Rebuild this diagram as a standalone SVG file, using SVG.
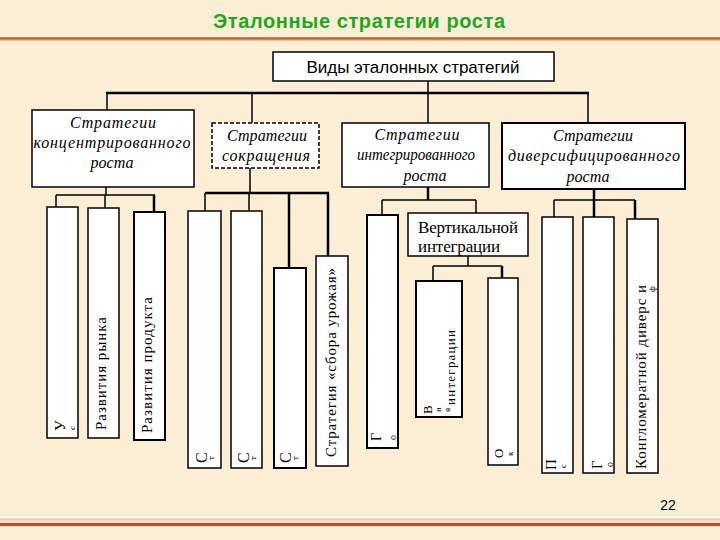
<svg xmlns="http://www.w3.org/2000/svg" width="720" height="540" viewBox="0 0 720 540">
<style>
.bg{fill:#fcefd6}
.box{fill:#ffffff;stroke:#000;stroke-width:1.5}
.dash{stroke-dasharray:4 2}
.ln{stroke:#000;stroke-width:1.5;fill:none}
.th{stroke-width:2.5}
.it{font-family:"Liberation Serif",serif;font-style:italic;font-size:16px;text-anchor:middle;fill:#000}
.rt{font-family:"Liberation Serif",serif;font-size:15px;fill:#000}
.sm{font-family:"Liberation Serif",serif;font-size:9px;fill:#000}
.sf{font-family:"Liberation Serif",serif;font-size:17px;fill:#000}
</style>
<rect class="bg" x="0" y="0" width="720" height="540"/>
<g id="header">
<text x="359" y="28" font-family="Liberation Sans, Arial, sans-serif" font-size="20" font-weight="bold" fill="#1fa81f" text-anchor="middle" textLength="292">Эталонные стратегии роста</text>
<line x1="0" y1="38.5" x2="720" y2="38.5" stroke="#c0652e" stroke-width="2.5"/>
<line x1="0" y1="40.5" x2="720" y2="40.5" stroke="#eec7a4" stroke-width="1"/>
</g>
<g id="footer">
<line x1="0" y1="514.5" x2="720" y2="514.5" stroke="#e2f3d6" stroke-width="2"/>
<line x1="0" y1="517" x2="720" y2="517" stroke="#fffaf0" stroke-width="2"/>
<line x1="0" y1="519.5" x2="720" y2="519.5" stroke="#f6c4b4" stroke-width="2"/>
<line x1="0" y1="524.5" x2="720" y2="524.5" stroke="#d5401f" stroke-width="3"/>
<text x="668" y="510" font-family="Liberation Sans, Arial, sans-serif" font-size="14" fill="#000" text-anchor="middle">22</text>
</g>
<g id="connectors">
<line class="ln" x1="428" y1="81" x2="428" y2="123"/>
<line class="ln th" x1="106" y1="93" x2="589" y2="93"/>
<line class="ln" x1="107" y1="93" x2="107" y2="110"/>
<line class="ln" x1="252" y1="93" x2="252" y2="123"/>
<line class="ln" x1="588" y1="93" x2="588" y2="123"/>
<line class="ln" x1="106" y1="187" x2="106" y2="195"/>
<line class="ln" x1="56" y1="195" x2="155" y2="195"/>
<line class="ln" x1="56" y1="195" x2="56" y2="207"/>
<line class="ln" x1="105" y1="195" x2="105" y2="208"/>
<line class="ln th" x1="154" y1="195" x2="154" y2="212"/>
<line class="ln" x1="250" y1="168" x2="250" y2="193"/>
<line class="ln th" x1="205" y1="193" x2="329" y2="193"/>
<line class="ln" x1="205" y1="193" x2="205" y2="211"/>
<line class="ln" x1="249" y1="193" x2="249" y2="211"/>
<line class="ln th" x1="289" y1="193" x2="289" y2="268"/>
<line class="ln th" x1="328" y1="193" x2="328" y2="256"/>
<line class="ln th" x1="428" y1="187" x2="428" y2="200"/>
<line class="ln" x1="382" y1="200" x2="476" y2="200"/>
<line class="ln" x1="382" y1="200" x2="382" y2="215"/>
<line class="ln" x1="476" y1="200" x2="476" y2="213"/>
<line class="ln" x1="468" y1="256" x2="468" y2="266"/>
<line class="ln" x1="433" y1="266" x2="502" y2="266"/>
<line class="ln" x1="433" y1="266" x2="433" y2="281"/>
<line class="ln th" x1="502" y1="266" x2="502" y2="278"/>
<line class="ln th" x1="594" y1="189" x2="594" y2="217"/>
<line class="ln" x1="554" y1="200" x2="635" y2="200"/>
<line class="ln" x1="554" y1="200" x2="554" y2="217"/>
<line class="ln th" x1="635" y1="200" x2="635" y2="219"/>
</g>
<g id="root">
<rect class="box" x="273" y="52" width="281" height="29"/>
<text x="413" y="73" font-family="Liberation Sans, Arial, sans-serif" font-size="17" fill="#000" text-anchor="middle" textLength="213">Виды эталонных стратегий</text>
</g>
<g id="concentrated">
<rect class="box" x="32" y="110" width="162" height="77"/>
<text class="it" x="113" y="128" textLength="86">Стратегии</text>
<text class="it" x="112" y="148" textLength="157">концентрированного</text>
<text class="it" x="112" y="168">роста</text>
</g>
<g id="reduction">
<rect class="box dash" x="212" y="123" width="107" height="45"/>
<text class="it" x="267" y="141" textLength="80">Стратегии</text>
<text class="it" x="266" y="161" textLength="88">сокращения</text>
</g>
<g id="integrated">
<rect class="box" x="342" y="123" width="147" height="64"/>
<text class="it" x="417" y="140" textLength="85">Стратегии</text>
<text class="it" x="416" y="160" textLength="118" lengthAdjust="spacingAndGlyphs">интегрированного</text>
<text class="it" x="425" y="181">роста</text>
</g>
<g id="diversified">
<rect class="box" x="502" y="123" width="183" height="66" style="stroke-width:2"/>
<text class="it" x="593" y="141" textLength="80">Стратегии</text>
<text class="it" x="594" y="161" textLength="172">диверсифицированного</text>
<text class="it" x="588" y="182">роста</text>
</g>
<g id="n-us">
<rect class="box" x="47" y="207" width="31" height="231"/>
<text class="rt" transform="translate(65,431) rotate(-90)">У</text>
<text class="sm" transform="translate(75,430) rotate(-90)">с</text>
</g>
<g id="n-market">
<rect class="box" x="88" y="208" width="31" height="230"/>
<text class="rt" transform="translate(106,430) rotate(-90)" textLength="113">Развития рынка</text>
</g>
<g id="n-product">
<rect class="box" x="134" y="212" width="31" height="228" style="stroke-width:2"/>
<text class="rt" transform="translate(152,433) rotate(-90)" textLength="136">Развития продукта</text>
</g>
<g id="n-st1">
<rect class="box" x="188" y="211" width="33" height="257"/>
<text class="rt" transform="translate(207,463) rotate(-90)" style="font-size:16px">С</text>
<text class="sm" transform="translate(214,460) rotate(-90)">т</text>
</g>
<g id="n-st2">
<rect class="box" x="231" y="211" width="31" height="257"/>
<text class="rt" transform="translate(249,463) rotate(-90)" style="font-size:16px">С</text>
<text class="sm" transform="translate(256,460) rotate(-90)">т</text>
</g>
<g id="n-st3">
<rect class="box" x="274" y="268" width="32" height="200" style="stroke-width:2"/>
<text class="rt" transform="translate(291,463) rotate(-90)" style="font-size:16px">С</text>
<text class="sm" transform="translate(298,460) rotate(-90)">т</text>
</g>
<g id="n-harvest">
<rect class="box" x="316" y="256" width="32" height="210"/>
<text class="rt" transform="translate(336,457) rotate(-90)" textLength="189">Стратегия «сбора урожая»</text>
</g>
<g id="n-go1">
<rect class="box" x="367" y="215" width="31" height="233" style="stroke-width:2"/>
<text class="rt" transform="translate(381,441) rotate(-90)" style="font-size:14px">Г</text>
<text class="sm" transform="translate(396,440) rotate(-90)" style="font-size:10px">о</text>
</g>
<g id="n-vertical">
<rect class="box" x="408" y="213" width="120" height="43"/>
<text class="sf" x="418" y="233" textLength="100">Вертикальной</text>
<text class="sf" x="418" y="252" textLength="82">интеграции</text>
</g>
<g id="n-vn">
<rect class="box" x="416" y="281" width="46" height="136" style="stroke-width:2"/>
<text class="rt" transform="translate(432,414) rotate(-90)" style="font-size:13px">В</text>
<text class="sm" transform="translate(441,412) rotate(-90)">н</text>
<text class="sm" transform="translate(450,412) rotate(-90)">я</text>
<text class="rt" transform="translate(455,405) rotate(-90)" style="font-size:13px" textLength="75">интеграции</text>
</g>
<g id="n-ok">
<rect class="box" x="488" y="278" width="30" height="187"/>
<text class="rt" transform="translate(503,458) rotate(-90)" style="font-size:13px">О</text>
<text class="sm" transform="translate(513,456) rotate(-90)">к</text>
</g>
<g id="n-ps">
<rect class="box" x="542" y="217" width="31" height="256"/>
<text class="rt" transform="translate(556,470) rotate(-90)">П</text>
<text class="sm" transform="translate(566,468) rotate(-90)">с</text>
</g>
<g id="n-go2">
<rect class="box" x="583" y="217" width="31" height="256"/>
<text class="rt" transform="translate(602,469) rotate(-90)">Г</text>
<text class="sm" transform="translate(613,467) rotate(-90)" style="font-size:10px">о</text>
</g>
<g id="n-conglomerate">
<rect class="box" x="627" y="219" width="31" height="254"/>
<text class="rt" transform="translate(646,469) rotate(-90)" textLength="184">Конгломератной диверс и</text>
<text class="sm" transform="translate(655,292) rotate(-90)">ф</text>
</g>
</svg>
